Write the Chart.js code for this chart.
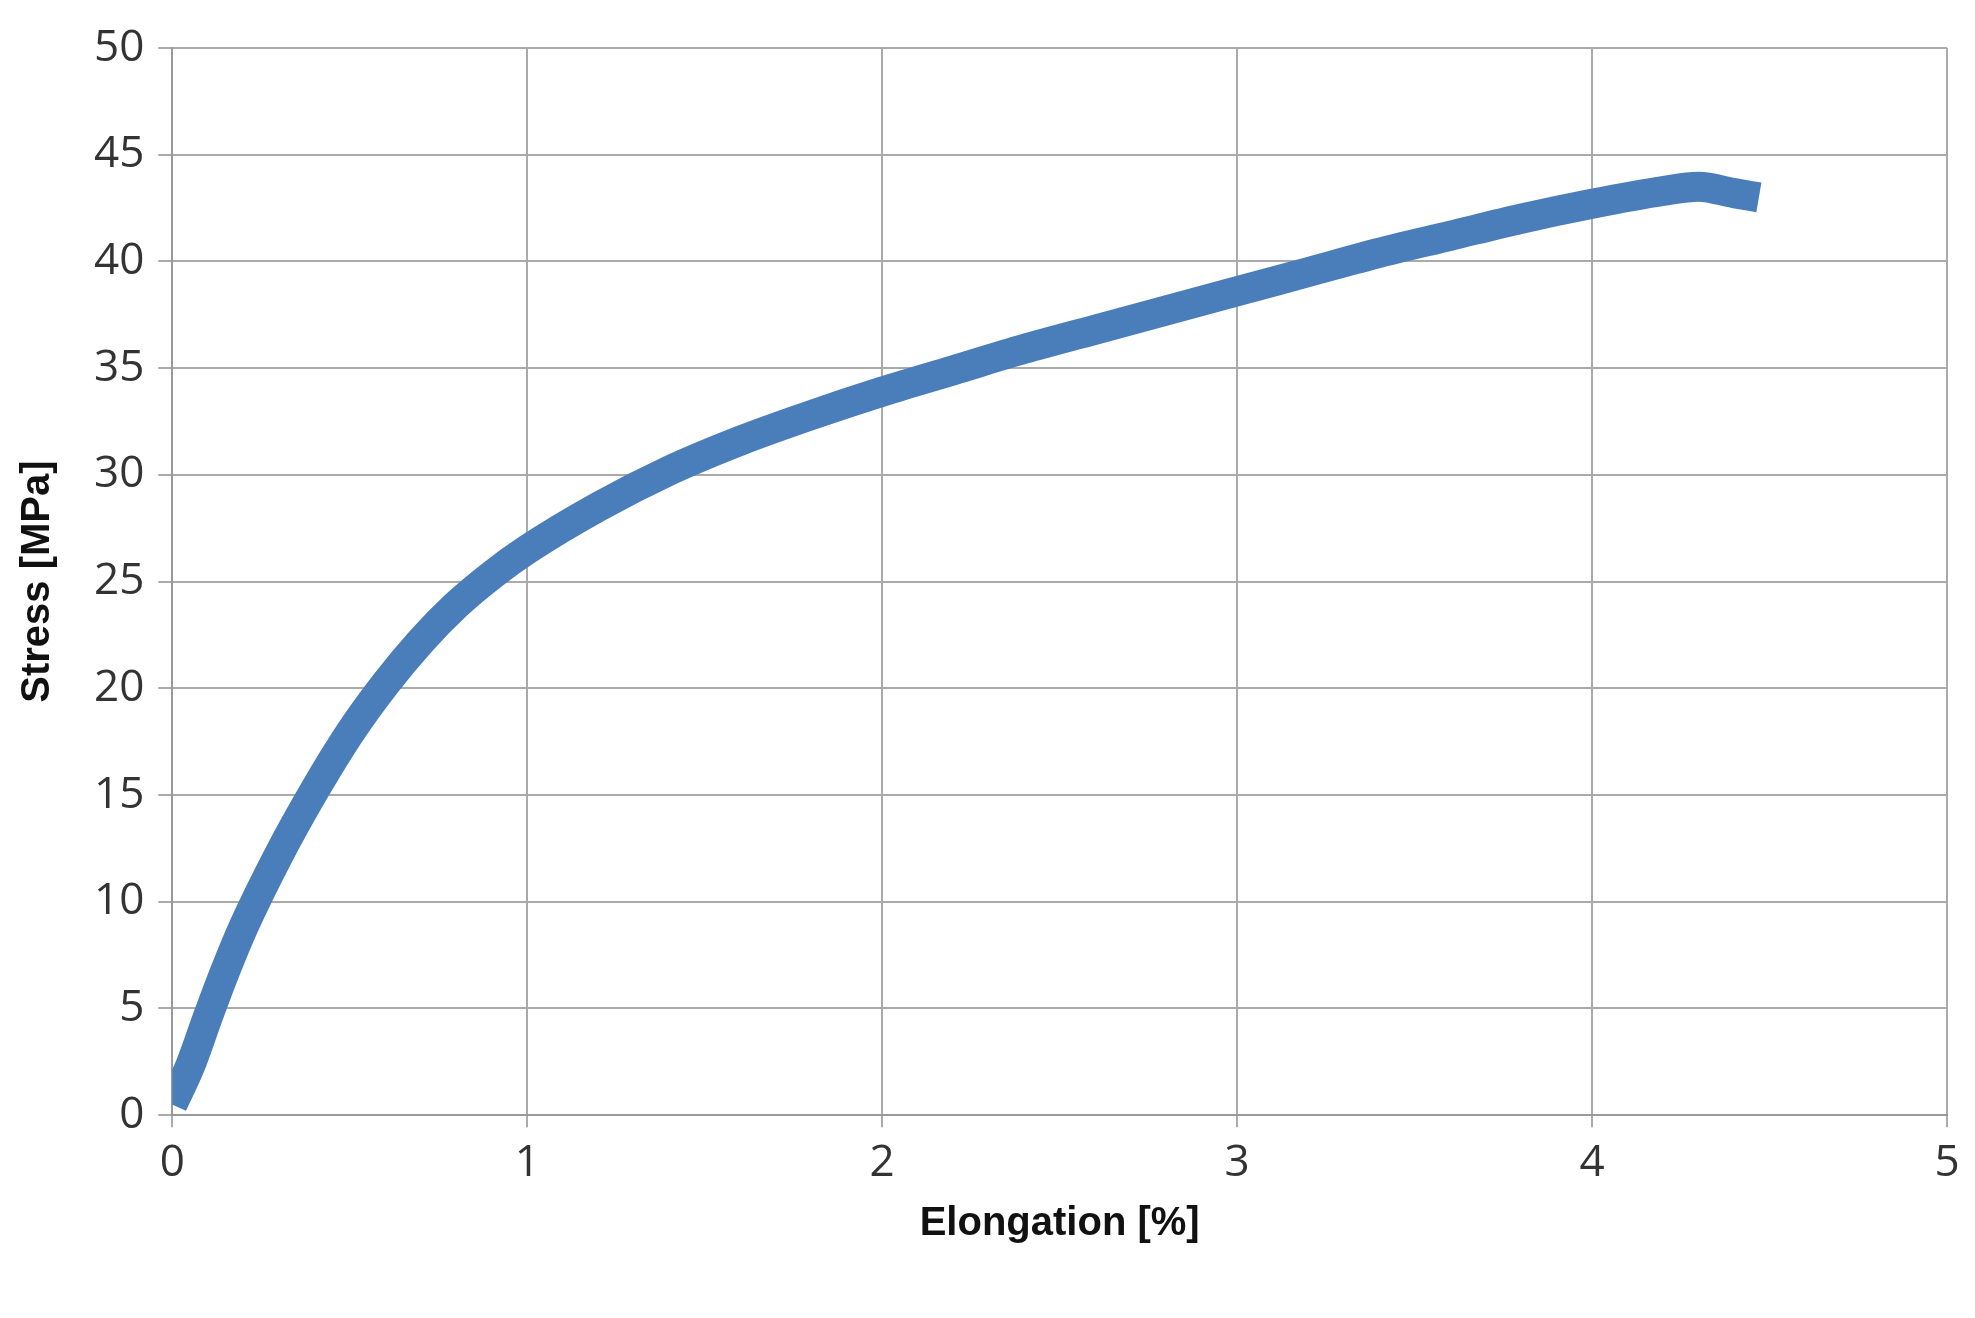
<!DOCTYPE html>
<html><head><meta charset="utf-8">
<script src="https://cdn.jsdelivr.net/npm/chart.js@4/dist/chart.umd.min.js"></script>
<style>html,body{margin:0;background:#fff}#w{width:1975px;height:1318px}</style>
</head><body><div id="w"><canvas id="c"></canvas></div>
<script>
const elongation=[0,0.05,0.1,0.15,0.2,0.3,0.4,0.5,0.6,0.7,0.8,0.9,1.0,1.2,1.4,1.6,1.8,2.0,2.2,2.4,2.6,2.8,3.0,3.2,3.4,3.6,3.8,4.0,4.2,4.3,4.4,4.47];
const stress=[0.5,2.3,4.6,6.8,8.8,12.2,15.2,17.9,20.2,22.2,23.9,25.3,26.5,28.5,30.2,31.6,32.8,33.9,34.9,35.9,36.8,37.7,38.6,39.5,40.4,41.2,42,42.7,43.3,43.5,43.2,43];
const pts=elongation.map((x,i)=>({x,y:stress[i]}));
new Chart(document.getElementById('c'),{type:'scatter',
data:{datasets:[{data:pts,showLine:true,borderColor:'#4a7ebb',borderWidth:30,pointRadius:0,cubicInterpolationMode:'monotone',borderCapStyle:'butt',borderJoinStyle:'round'}]},
options:{responsive:true,maintainAspectRatio:false,animation:false,
layout:{padding:{left:10,right:28,top:48,bottom:66}},
plugins:{legend:{display:false},tooltip:{enabled:false}},
scales:{
x:{type:'linear',min:0,max:5,ticks:{stepSize:1,color:'#333',padding:10,font:{family:'Open Sans',size:44}},
grid:{color:'#aaa',lineWidth:2,tickLength:12},border:{color:'#999',width:2},
title:{display:true,text:'Elongation [%]',color:'#111',padding:{top:0},font:{family:'Liberation Sans',size:40,weight:'bold'}}},
y:{min:0,max:50,ticks:{stepSize:5,color:'#333',padding:14,font:{family:'Open Sans',size:44}},
grid:{color:'#aaa',lineWidth:2,tickLength:14},border:{color:'#999',width:2},
title:{display:true,text:'Stress [MPa]',color:'#111',padding:{bottom:18},font:{family:'Liberation Sans',size:40,weight:'bold'}}}
}}});
</script></body></html>
